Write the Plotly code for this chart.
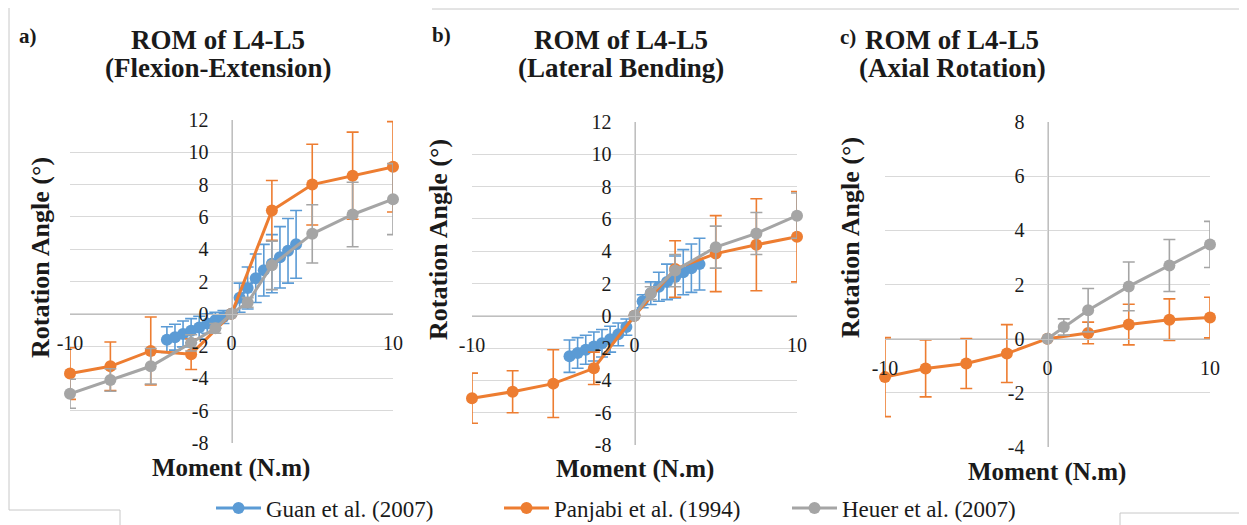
import plotly.graph_objects as go

# ---------------- data ----------------
series_names = ["Guan et al. (2007)", "Panjabi et al. (1994)", "Heuer et al. (2007)"]
panel_letters = ["a)", "b)", "c)"]
title_line1 = ["ROM of L4-L5", "ROM of L4-L5", "ROM of L4-L5"]
title_line2 = ["(Flexion-Extension)", "(Lateral Bending)", "(Axial Rotation)"]
x_title = "Moment (N.m)"
y_title = "Rotation Angle (°)"
x_ticks = [-10, 0, 10]

# Guan et al. (2007)
guan_x = [-4, -3.5, -3, -2.5, -2, -1.5, -1, -0.5, 0, 0.5, 1, 1.5, 2, 2.5, 3, 3.5, 4]
guan_fe = [-1.6, -1.45, -1.25, -1.05, -0.85, -0.6, -0.4, -0.2, 0, 1.0, 1.6, 2.2, 2.7, 3.1, 3.5, 3.9, 4.3]
guan_fe_err = [0.8, 0.8, 0.8, 0.75, 0.7, 0.6, 0.5, 0.4, 0, 0.9, 1.3, 1.5, 1.6, 1.8, 1.9, 2.0, 2.1]
guan_lb = [-2.5, -2.3, -2.1, -1.9, -1.7, -1.45, -1.15, -0.7, 0, 0.9, 1.4, 1.8, 2.1, 2.4, 2.7, 2.95, 3.2]
guan_lb_err = [1.0, 0.95, 0.9, 0.9, 0.85, 0.8, 0.7, 0.5, 0, 0.4, 0.7, 0.9, 1.1, 1.3, 1.4, 1.5, 1.6]

# Panjabi et al. (1994)
panjabi_x = [-10, -7.5, -5, -2.5, 0, 2.5, 5, 7.5, 10]
panjabi_fe = [-3.7, -3.25, -2.3, -2.5, 0, 6.4, 8.0, 8.55, 9.1]
panjabi_fe_err = [1.6, 1.5, 2.1, 0.95, 0, 1.85, 2.5, 2.7, 2.8]
panjabi_lb = [-5.1, -4.7, -4.2, -3.25, 0, 2.9, 3.85, 4.4, 4.9]
panjabi_lb_err = [1.55, 1.3, 2.1, 1.0, 0, 1.75, 2.35, 2.85, 2.8]
panjabi_ar = [-1.42, -1.1, -0.92, -0.55, 0, 0.21, 0.52, 0.7, 0.78]
panjabi_ar_err = [1.46, 1.05, 0.92, 1.07, 0, 0.4, 0.75, 0.77, 0.75]

# Heuer et al. (2007)
heuer_fe_x = [-10, -7.5, -5, -2.5, -1, 0, 1, 2.5, 5, 7.5, 10]
heuer_fe = [-4.95, -4.1, -3.25, -1.8, -0.9, 0, 0.7, 3.0, 4.95, 6.15, 7.1]
heuer_fe_err = [0.9, 0.7, 1.1, 0.5, 0.3, 0, 0.3, 1.5, 1.8, 2.0, 2.2]
heuer_x = [0, 1, 2.5, 5, 7.5, 10]
heuer_lb = [0, 1.4, 2.8, 4.25, 5.1, 6.2]
heuer_lb_err = [0, 0.4, 1.0, 1.3, 1.3, 1.4]
heuer_ar = [0, 0.43, 1.05, 1.93, 2.7, 3.48]
heuer_ar_err = [0, 0.3, 0.8, 0.9, 0.96, 0.85]

y_ranges = [[-8, 12], [-8, 12], [-4, 8]]

# ---------------- styling ----------------
OFF = 8                      # page body margin
W, H = 1247 - OFF, 525 - OFF  # figure size so it ends at the window edge
colors = ["#5B9BD5", "#ED7D31", "#A5A5A5"]
FONT = "Liberation Serif"
TXT = "#1a1a1a"
GRID = "#D9D9D9"
AXIS = "#BFBFBF"


def fx(px):
    return (px - OFF) / W


def fy(py):
    return 1 - (py - OFF) / H


def lab(v):
    return str(v)  # plain hyphen-minus, as in the reference


# plot-area pixel boxes in window pixels (left, right, top, bottom)
boxes = [(70, 393, 120, 443), (472, 797, 122, 445), (885, 1210, 122, 447)]

panels = [
    [(guan_x, guan_fe, guan_fe_err), (panjabi_x, panjabi_fe, panjabi_fe_err), (heuer_fe_x, heuer_fe, heuer_fe_err)],
    [(guan_x, guan_lb, guan_lb_err), (panjabi_x, panjabi_lb, panjabi_lb_err), (heuer_x, heuer_lb, heuer_lb_err)],
    [None, (panjabi_x, panjabi_ar, panjabi_ar_err), (heuer_x, heuer_ar, heuer_ar_err)],
]

fig = go.Figure()
layout = dict(
    width=W, height=H,
    margin=dict(l=0, r=0, t=0, b=0, pad=0, autoexpand=False),
    paper_bgcolor="white", plot_bgcolor="white",
    font=dict(family=FONT, color=TXT),
    showlegend=True,
    legend=dict(
        orientation="h", x=fx(211), y=fy(508), xanchor="left", yanchor="middle",
        font=dict(family=FONT, size=23, color=TXT),
        entrywidth=228, entrywidthmode="pixels", itemwidth=45,
        bgcolor="rgba(0,0,0,0)",
    ),
)

annotations = []
for i, (l, r, t, b) in enumerate(boxes):
    sfx = "" if i == 0 else str(i + 1)
    xd = [fx(l), fx(r)]
    yd = [fy(b), fy(t)]
    ymin, ymax = y_ranges[i]
    zero_frac = (0 - ymin) / (ymax - ymin)
    xpos = yd[0] + zero_frac * (yd[1] - yd[0])
    ypos = (xd[0] + xd[1]) / 2
    yt = list(range(ymin, ymax + 1, 2))
    layout["xaxis" + sfx] = dict(
        domain=xd, range=[-10, 10], tickvals=x_ticks, ticktext=[lab(v) for v in x_ticks],
        anchor="free", position=xpos,
        showgrid=True, gridcolor=GRID, gridwidth=1, zeroline=False,
        showline=True, linecolor=AXIS, linewidth=1, ticks="",
        tickfont=dict(family=FONT, size=20, color=TXT), ticklabelstandoff=11,
    )
    layout["yaxis" + sfx] = dict(
        domain=yd, range=[ymin, ymax], tickvals=yt, ticktext=[lab(v) for v in yt],
        anchor="free", position=ypos,
        showgrid=True, gridcolor=GRID, gridwidth=1, zeroline=False,
        showline=True, linecolor=AXIS, linewidth=1, ticks="",
        tickfont=dict(family=FONT, size=20, color=TXT), ticklabelstandoff=19,
    )
    for s, d in enumerate(panels[i]):
        if d is None:
            continue
        xs, ys, es = d
        fig.add_trace(go.Scatter(
            x=xs, y=ys, mode="lines+markers",
            name=series_names[s], legendgroup=series_names[s],
            showlegend=(i == 0),
            line=dict(color=colors[s], width=3),
            marker=dict(color=colors[s], size=12, symbol="circle"),
            error_y=dict(type="data", array=es, visible=True, color=colors[s], thickness=1.6, width=6),
            xaxis="x" + sfx, yaxis="y" + sfx, cliponaxis=False,
        ))

# titles and labels (window pixel positions)
letter_pos = [(28, 36), (441, 35), (848, 37)]
title_cx = [218, 621, 952]
ytitle_pos = [(40, 258), (438, 240), (851, 238)]
xtitle_pos = [(231, 468), (635, 469), (1047, 472)]


def ann(text, x, y, size, angle=0):
    return dict(text=text, x=fx(x), y=fy(y), xref="paper", yref="paper", showarrow=False,
                xanchor="center", yanchor="middle", textangle=angle,
                font=dict(family=FONT, size=size, color=TXT))


for i in range(3):
    annotations.append(ann("<b>%s</b>" % panel_letters[i], letter_pos[i][0], letter_pos[i][1], 21))
    annotations.append(ann("<b>%s</b>" % title_line1[i], title_cx[i], 40, 27))
    annotations.append(ann("<b>%s</b>" % title_line2[i], title_cx[i], 68, 27))
    annotations.append(ann("<b>%s</b>" % y_title, ytitle_pos[i][0], ytitle_pos[i][1], 26, -90))
    annotations.append(ann("<b>%s</b>" % x_title, xtitle_pos[i][0], xtitle_pos[i][1], 25))
layout["annotations"] = annotations

# faint frame lines of the source figure
edge = dict(color="#C8C8C8", width=1)
layout["shapes"] = [
    dict(type="line", xref="paper", yref="paper", x0=fx(9), x1=fx(9), y0=fy(8), y1=fy(510), line=edge),
    dict(type="line", xref="paper", yref="paper", x0=fx(9), x1=fx(120), y0=fy(510), y1=fy(510), line=edge),
    dict(type="line", xref="paper", yref="paper", x0=fx(120), x1=fx(120), y0=fy(510), y1=fy(525), line=edge),
    dict(type="line", xref="paper", yref="paper", x0=fx(432), x1=fx(1247), y0=fy(9), y1=fy(9), line=edge),
    dict(type="line", xref="paper", yref="paper", x0=fx(1120), x1=fx(1247), y0=fy(513), y1=fy(513), line=edge),
    dict(type="line", xref="paper", yref="paper", x0=fx(1120), x1=fx(1120), y0=fy(513), y1=fy(525), line=edge),
]

fig.update_layout(**layout)
fig.write_html("out.html")
